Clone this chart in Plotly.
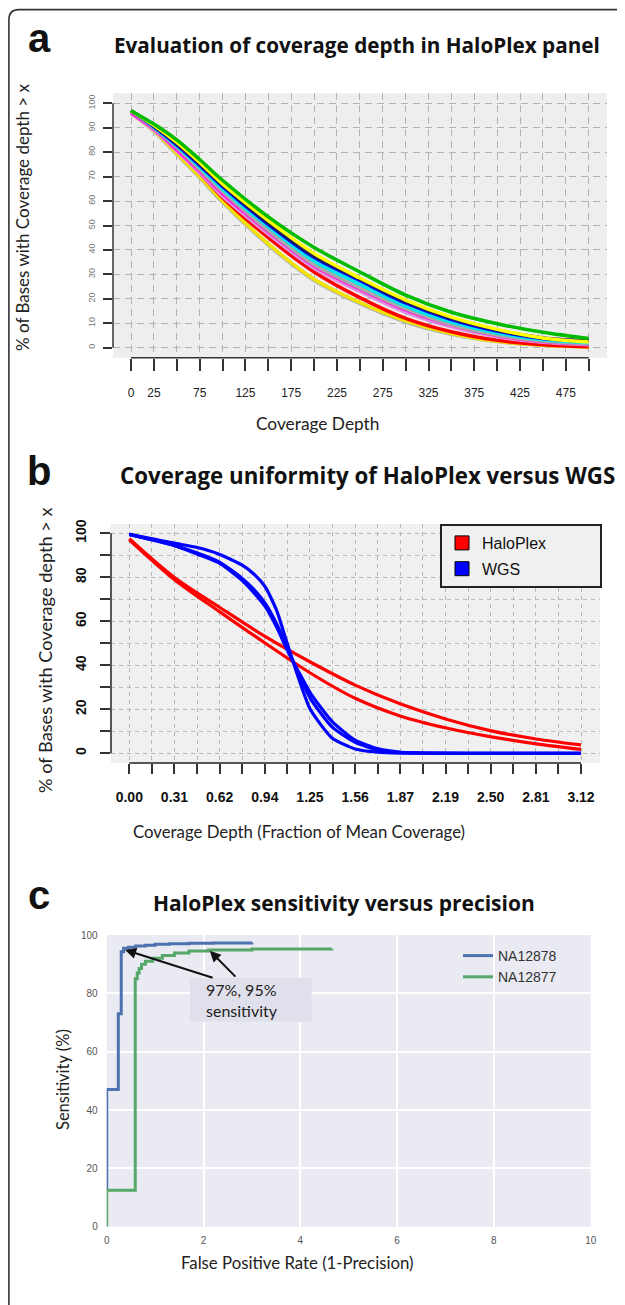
import plotly.graph_objects as go

# The page body adds an 8px margin, so the figure is 8px smaller than the window
W, H = 617, 1297
OFF = 8

# ---------------- Panel a: coverage depth curves ----------------
a_depth = [0, 25, 50, 75, 100, 150, 200, 250, 300, 350, 400, 450, 500]
a_gray_low   = [96, 88.5, 79, 69.5, 59.5, 42, 27.5, 18, 10.5, 5.5, 2.5, 1.0, 0.3]
a_yellow_low = [96, 88.8, 79.5, 70, 60, 42.5, 28, 18.5, 11, 5.8, 2.6, 1.0, 0.3]
a_red        = [97, 89.5, 81, 71.5, 61.5, 45, 31, 20.5, 12, 6.5, 3.0, 1.2, 0.4]
a_plum       = [96, 89, 80.5, 71.5, 62, 46.5, 32.5, 23, 14.5, 8.5, 4.5, 2.2, 1.2]
a_magenta    = [96, 89.5, 81, 72.3, 63, 47.5, 33.5, 24, 15.5, 9.3, 5.0, 2.5, 1.5]
a_gray_mid   = [97, 90, 82, 73, 64, 48, 34, 24.5, 16, 9.5, 5.2, 2.7, 1.6]
a_cyan       = [97, 90.2, 82.5, 74, 65, 49.5, 35.5, 26, 17, 10.5, 6.0, 3.2, 2.0]
a_blue       = [97, 90.5, 83, 74.7, 66, 50.5, 37, 27.5, 18.3, 11.5, 6.8, 3.8, 2.8]
a_navy       = [97, 90.7, 83.5, 75.2, 66.5, 51, 37.5, 28, 18.8, 12, 7.2, 4.0, 2.8]
a_yellow_hi  = [97, 91, 84, 75.8, 67, 52, 38.5, 28.5, 19.5, 12.5, 7.5, 4.0, 2.3]
a_green      = [97, 91.5, 85, 77, 68.5, 53.5, 41, 31, 21.5, 14.5, 9.8, 6.3, 3.8]
a_xtick_vals = [0, 25, 50, 75, 100, 125, 150, 175, 200, 225, 250, 275, 300, 325, 350, 375, 400, 425, 450, 475, 500]
a_xtick_text = ["0", "25", "", "75", "", "125", "", "175", "", "225", "", "275", "", "325", "", "375", "", "425", "", "475", ""]
a_ytick_vals = [0, 10, 20, 30, 40, 50, 60, 70, 80, 90, 100]

# ---------------- Panel b: HaloPlex vs WGS uniformity ----------------
b_x = [0.00, 0.31, 0.62, 0.94, 1.25, 1.56, 1.87, 2.19, 2.50, 2.81, 3.12]
b_halo_1 = [97.5, 80, 66.5, 53, 41.5, 31, 22.5, 15.5, 10.2, 6.5, 3.8]
b_halo_2 = [97, 79, 64.5, 50, 36.5, 25, 17, 11.5, 7.5, 4.3, 1.8]
b_wx = [0, 0.16, 0.31, 0.47, 0.62, 0.78, 0.86, 0.94, 1.02, 1.09, 1.17, 1.25, 1.40, 1.56, 1.72, 1.87, 2.19, 2.50, 2.81, 3.12]
b_wgs_1 = [99.5, 97.5, 95.5, 93.5, 90.5, 85.5, 81.5, 75.5, 64.5, 50, 34, 20, 7, 2, 0.5, 0.1, 0, 0, 0, 0]
b_wgs_2 = [99.5, 97, 94.5, 91, 87, 79.5, 74.5, 68, 58.5, 48, 36, 25, 12, 5, 1.5, 0.4, 0, 0, 0, 0]
b_wgs_3 = [99.5, 97, 94.5, 90.5, 86.5, 78.5, 73, 66.5, 57, 47, 37, 27.5, 14.5, 6, 2, 0.5, 0.1, 0, 0, 0]
b_xtick_vals = [0.000, 0.156, 0.312, 0.468, 0.624, 0.780, 0.936, 1.092, 1.248, 1.404, 1.560,
                1.716, 1.872, 2.028, 2.184, 2.340, 2.496, 2.652, 2.808, 2.964, 3.120]
b_xtick_text = ["0.00", "", "0.31", "", "0.62", "", "0.94", "", "1.25", "", "1.56",
                "", "1.87", "", "2.19", "", "2.50", "", "2.81", "", "3.12"]
b_ytick_vals = [0, 10, 20, 30, 40, 50, 60, 70, 80, 90, 100]
b_ytick_text = ["0", "", "20", "", "40", "", "60", "", "80", "", "100"]
b_legend_names = ["HaloPlex", "WGS"]

# ---------------- Panel c: sensitivity vs precision ----------------
c_na12878_fpr  = [0, 0, 0.24, 0.30, 0.35, 0.45, 0.6, 0.8, 1.0, 1.3, 1.7, 2.2, 3.0]
c_na12878_sens = [12.5, 47, 73, 94.3, 95.5, 95.8, 96.2, 96.5, 96.8, 97.0, 97.2, 97.3, 97.4]
c_na12877_fpr  = [0, 0, 0.59, 0.63, 0.67, 0.72, 0.8, 0.95, 1.15, 1.4, 1.7, 2.1, 3.0, 4.65]
c_na12877_sens = [0, 12.5, 85, 87, 88.5, 90, 91, 92, 93, 93.8, 94.5, 94.9, 95.2, 95.3]
c_tick_x = [0, 2, 4, 6, 8, 10]
c_tick_y = [0, 20, 40, 60, 80, 100]
c_arrow_heads = [(0.38, 94.9), (2.13, 94.6)]
c_arrow_tails = [(2.22, 85.2), (2.69, 85.2)]


def X(x):
    return (x - OFF) / W


def Y(y):
    return 1 - (y - OFF) / H


fig = go.Figure()

# panel a traces
a_series = [a_gray_low, a_yellow_low, a_red, a_plum, a_magenta, a_gray_mid,
            a_cyan, a_blue, a_navy, a_yellow_hi, a_green]
a_colors = ['#b4b4b4', '#f2e200', '#ff0000', '#e08ee0', '#ff22dd', '#a8a8a8',
            '#00e5ee', '#0000ff', '#1a1a60', '#ffff00', '#00bb00']
for s, c in zip(a_series, a_colors):
    fig.add_trace(go.Scatter(x=a_depth, y=s, mode='lines',
                             line=dict(color=c, width=3.5, shape='spline', smoothing=0.9),
                             xaxis='x', yaxis='y', showlegend=False, hoverinfo='skip'))

# panel b traces
for s in [b_halo_1, b_halo_2]:
    fig.add_trace(go.Scatter(x=b_x, y=s, mode='lines',
                             line=dict(color='#ff0000', width=3.2, shape='spline', smoothing=0.9),
                             xaxis='x2', yaxis='y2', showlegend=False, hoverinfo='skip'))
for s in [b_wgs_1, b_wgs_2, b_wgs_3]:
    fig.add_trace(go.Scatter(x=b_wx, y=s, mode='lines',
                             line=dict(color='#0000ff', width=3.2, shape='spline', smoothing=0.6),
                             xaxis='x2', yaxis='y2', showlegend=False, hoverinfo='skip'))
PAD = '&nbsp;' * 11
for name, col in zip(b_legend_names, ['#ff0000', '#0000ff']):
    fig.add_trace(go.Scatter(x=[None], y=[None], mode='markers', name=name + PAD,
                             marker=dict(symbol='square', size=14, color=col,
                                         line=dict(color='black', width=1)),
                             xaxis='x2', yaxis='y2', legend='legend2', legendgroup=name))

# panel c traces
fig.add_trace(go.Scatter(x=c_na12878_fpr, y=c_na12878_sens, mode='lines', name='NA12878',
                         line=dict(color='#4c72b0', width=3, shape='hv'),
                         xaxis='x3', yaxis='y3', legend='legend'))
fig.add_trace(go.Scatter(x=c_na12877_fpr, y=c_na12877_sens, mode='lines', name='NA12877',
                         line=dict(color='#55a868', width=3, shape='hv'),
                         xaxis='x3', yaxis='y3', legend='legend'))

r_grid_a = dict(showgrid=True, gridcolor='#b3b3b3', griddash='7px,5px', gridwidth=1)
r_grid_b = dict(showgrid=True, gridcolor='#b8b8b8', griddash='4px,4px', gridwidth=1)
r_ticks = dict(ticks='outside', tickwidth=1.5, tickcolor='#333', showline=False, zeroline=False)

fig.update_layout(
    width=W, height=H, margin=dict(l=0, r=0, t=0, b=0), template='none',
    paper_bgcolor='white', plot_bgcolor='rgba(0,0,0,0)',
    xaxis=dict(domain=[X(113), X(607)], range=[-19.7, 520], anchor='y',
               tickmode='array', tickvals=a_xtick_vals, ticktext=a_xtick_text, ticklen=12,
               ticklabelstandoff=12,
               tickfont=dict(family='Liberation Sans', size=12, color='#222'),
               **r_ticks, **r_grid_a),
    yaxis=dict(domain=[Y(357.7), Y(93.3)], range=[-4.1, 104.1], anchor='x',
               tickmode='array', tickvals=a_ytick_vals, ticklen=9, tickangle=-90,
               ticklabelstandoff=4,
               tickfont=dict(family='Liberation Sans', size=9, color='#777'),
               **r_ticks, **r_grid_a),
    xaxis2=dict(domain=[X(111), X(600)], range=[-0.1264, 3.251], anchor='y2',
                tickmode='array', tickvals=b_xtick_vals, ticktext=b_xtick_text, ticklen=10,
                ticklabelstandoff=11,
                tickfont=dict(family='Liberation Sans', size=14, color='#111', weight='bold'),
                **r_ticks, **r_grid_b),
    yaxis2=dict(domain=[Y(763), Y(524)], range=[-4.4, 104.2], anchor='x2',
                tickmode='array', tickvals=b_ytick_vals, ticktext=b_ytick_text, ticklen=10,
                tickangle=-90, ticklabelstandoff=8,
                tickfont=dict(family='Liberation Sans', size=14, color='#111', weight='bold'),
                **r_ticks, **r_grid_b),
    xaxis3=dict(domain=[X(106.7), X(590.7)], range=[0, 10], anchor='y3',
                tickmode='array', tickvals=c_tick_x, ticks='', showline=False, zeroline=False,
                showgrid=True, gridcolor='white', gridwidth=1.5, ticklabelstandoff=6,
                tickfont=dict(family='Liberation Sans', size=10, color='#555')),
    yaxis3=dict(domain=[Y(1226.7), Y(935)], range=[0, 100], anchor='x3',
                tickmode='array', tickvals=c_tick_y, ticks='', showline=False, zeroline=False,
                showgrid=True, gridcolor='white', gridwidth=1.5, ticklabelstandoff=8,
                tickfont=dict(family='Liberation Sans', size=10, color='#555')),
    legend=dict(x=X(458), y=Y(940), xanchor='left', yanchor='top',
                bgcolor='rgba(0,0,0,0)', borderwidth=0, tracegroupgap=0,
                font=dict(family='Liberation Sans', size=14, color='#333')),
    legend2=dict(x=X(440), y=Y(524), xanchor='left', yanchor='top',
                 bgcolor='#f0f0f0', bordercolor='#222', borderwidth=2, tracegroupgap=2,
                 font=dict(family='Liberation Sans', size=16, color='#111')),
)

shapes = []
# panel backgrounds
for xr, yr, col in [('x', 'y', '#eeeeee'), ('x2', 'y2', '#f0f0f0'), ('x3', 'y3', '#eaeaf2')]:
    shapes.append(dict(type='rect', xref=xr + ' domain', yref=yr + ' domain', x0=0, x1=1, y0=0, y1=1,
                       fillcolor=col, line=dict(width=0), layer='below'))
# R-style axis lines spanning the first to last tick
shapes.append(dict(type='line', xref='x domain', yref='y', x0=0, x1=0, y0=0, y1=100,
                   line=dict(color='#333', width=1.5)))
shapes.append(dict(type='line', xref='x', yref='y domain', x0=0, x1=500, y0=0, y1=0,
                   line=dict(color='#333', width=1.5)))
shapes.append(dict(type='line', xref='x2 domain', yref='y2', x0=0, x1=0, y0=0, y1=100,
                   line=dict(color='#222', width=1.5)))
shapes.append(dict(type='line', xref='x2', yref='y2 domain', x0=0, x1=3.12, y0=0, y1=0,
                   line=dict(color='#222', width=1.5)))
# annotation box in panel c
shapes.append(dict(type='rect', xref='paper', yref='paper', x0=X(190), x1=X(311.7),
                   y0=Y(1021.7), y1=Y(978), fillcolor='#e0e0ec', line=dict(width=0)))
# outer rounded frame (left and top edges)
x0f, ytf, rx, ry = X(8.9), Y(9.6), 10 / W, 10 / H
shapes.append(dict(type='path', xref='paper', yref='paper',
                   path=f"M {x0f},-0.02 L {x0f},{ytf - ry} Q {x0f},{ytf} {x0f + rx},{ytf} L 1.05,{ytf}",
                   line=dict(color='#333', width=1.6)))
fig.update_layout(shapes=shapes)

ann = []
TF = 'Lato'


def text(x, y, t, size, bold=False, angle=0, family=TF, color='#111', xanchor='center', align='center'):
    ann.append(dict(x=X(x), y=Y(y), xref='paper', yref='paper', text=t, showarrow=False,
                    textangle=angle, xanchor=xanchor, yanchor='middle', align=align,
                    font=dict(family=family, size=size, color=color, weight='bold' if bold else 'normal')))


# panel letters
text(39, 38, 'a', 40, bold=True, family='Liberation Sans')
text(39, 471, 'b', 40, bold=True, family='Liberation Sans')
text(39, 895, 'c', 40, bold=True, family='Liberation Sans')
# titles
text(357, 45, 'Evaluation of coverage depth in HaloPlex panel', 20.7, bold=True, family='Open Sans')
text(367, 475, 'Coverage uniformity of HaloPlex versus WGS', 22.3, bold=True, family='Open Sans')
text(343.5, 903, 'HaloPlex sensitivity versus precision', 21, bold=True, family='Open Sans')
# axis titles
text(22, 218, '% of Bases with Coverage depth &gt; x', 17, angle=-90, color='#222')
text(317, 423, 'Coverage Depth', 17.3, color='#222')
text(45, 650, '% of Bases with Coverage depth &gt; x', 18.2, angle=-90, color='#222')
text(299, 832, 'Coverage Depth (Fraction of Mean Coverage)', 16.8, color='#222')
text(63, 1080, 'Sensitivity (%)', 16.5, angle=-90, color='#222')
text(297, 1262, 'False Positive Rate (1-Precision)', 16.8, color='#222')
# annotation text in panel c
text(204, 1000, '97%, 95%<br>sensitivity', 16, color='#222', xanchor='left', align='left')
for (hx, hy), (tx, ty) in zip(c_arrow_heads, c_arrow_tails):
    ann.append(dict(x=hx, y=hy, xref='x3', yref='y3', ax=tx, ay=ty, axref='x3', ayref='y3',
                    text='', showarrow=True, arrowhead=2, arrowsize=1.1, arrowwidth=2,
                    arrowcolor='#111'))
fig.update_layout(annotations=ann)

fig.write_html('out.html')
